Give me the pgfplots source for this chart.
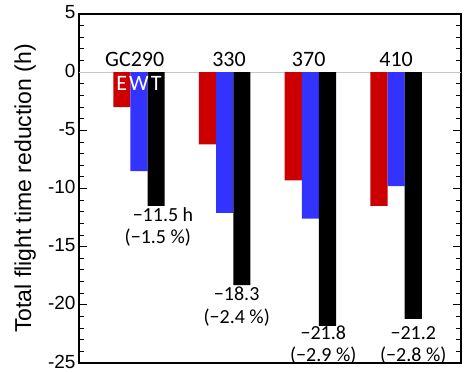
\documentclass[border=0pt]{standalone}
\usepackage{fontspec}
\setmainfont{Liberation Sans}
\newfontfamily\calib{Carlito}
\usepackage{pgfplots}
\pgfplotsset{compat=1.18}
\definecolor{myred}{RGB}{204,0,0}
\definecolor{myblue}{RGB}{51,51,255}
\begin{document}
\begin{tikzpicture}
\begin{axis}[
  at={(0pt,0pt)}, anchor=south west,
  scale only axis, width=382pt, height=349pt,
  xmin=-0.70, xmax=3.757, ymin=-25, ymax=5,
  xtick=\empty,
  ytick={-25,-20,-15,-10,-5,0,5},
  minor y tick num=4,
  ytick pos=both, yticklabel pos=left,
  tick align=inside,
  major tick length=8pt, minor tick length=5pt,
  tick style={black, line width=0.9pt},
  axis line style={line width=1.4pt},
  yticklabel style={font=\fontsize{19}{19}\selectfont, yshift=1.5pt, /pgf/number format/assume math mode=true},
  ylabel={Total flight time reduction (h)},
  ylabel style={font=\fontsize{23}{23}\selectfont, at={(axis description cs:-0.141,0.5)}, anchor=center},
  clip=false,
]
\draw[gray!45, line width=0.9pt] (axis cs:-0.70,0) -- (axis cs:3.757,0);
\addplot[ybar, bar width=0.2, bar shift=-0.2, fill=myred, draw=none] coordinates {(0,-3.0) (1,-6.2) (2,-9.3) (3,-11.5)};
\addplot[ybar, bar width=0.2, bar shift=0, fill=myblue, draw=none] coordinates {(0,-8.5) (1,-12.1) (2,-12.6) (3,-9.8)};
\addplot[ybar, bar width=0.2, bar shift=0.2, fill=black, draw=none] coordinates {(0,-11.5) (1,-18.3) (2,-21.8) (3,-21.2)};
\begin{scope}[every node/.style={anchor=base, font=\calib\fontsize{20}{20}\selectfont}]
\node[font=\calib\fontsize{22}{22}\selectfont] at (axis cs:-0.05,0.52) {GC290};
\node[font=\calib\fontsize{22}{22}\selectfont] at (axis cs:1.05,0.52) {330};
\node[font=\calib\fontsize{22}{22}\selectfont] at (axis cs:1.98,0.52) {370};
\node[font=\calib\fontsize{22}{22}\selectfont] at (axis cs:3.0,0.52) {410};
\node[text=white, font=\calib\fontsize{22}{22}\selectfont] at (axis cs:-0.2,-1.6) {E};
\node[text=white, font=\calib\fontsize{22}{22}\selectfont] at (axis cs:0,-1.6) {W};
\node[text=white, font=\calib\fontsize{22}{22}\selectfont] at (axis cs:0.2,-1.6) {T};
\node at (axis cs:0.28,-12.8) {−11.5 h};
\node at (axis cs:0.22,-14.77) {(−1.5 \%)};
\node at (axis cs:1.14,-19.6) {−18.3};
\node at (axis cs:1.14,-21.6) {(−2.4 \%)};
\node at (axis cs:2.15,-23.0) {−21.8};
\node at (axis cs:2.15,-24.9) {(−2.9 \%)};
\node at (axis cs:3.2,-23.0) {−21.2};
\node at (axis cs:3.2,-24.9) {(−2.8 \%)};
\end{scope}
\end{axis}
\pgfresetboundingbox
\path[use as bounding box] (-79pt,-9pt) rectangle (386pt,363pt);
\end{tikzpicture}
\end{document}
